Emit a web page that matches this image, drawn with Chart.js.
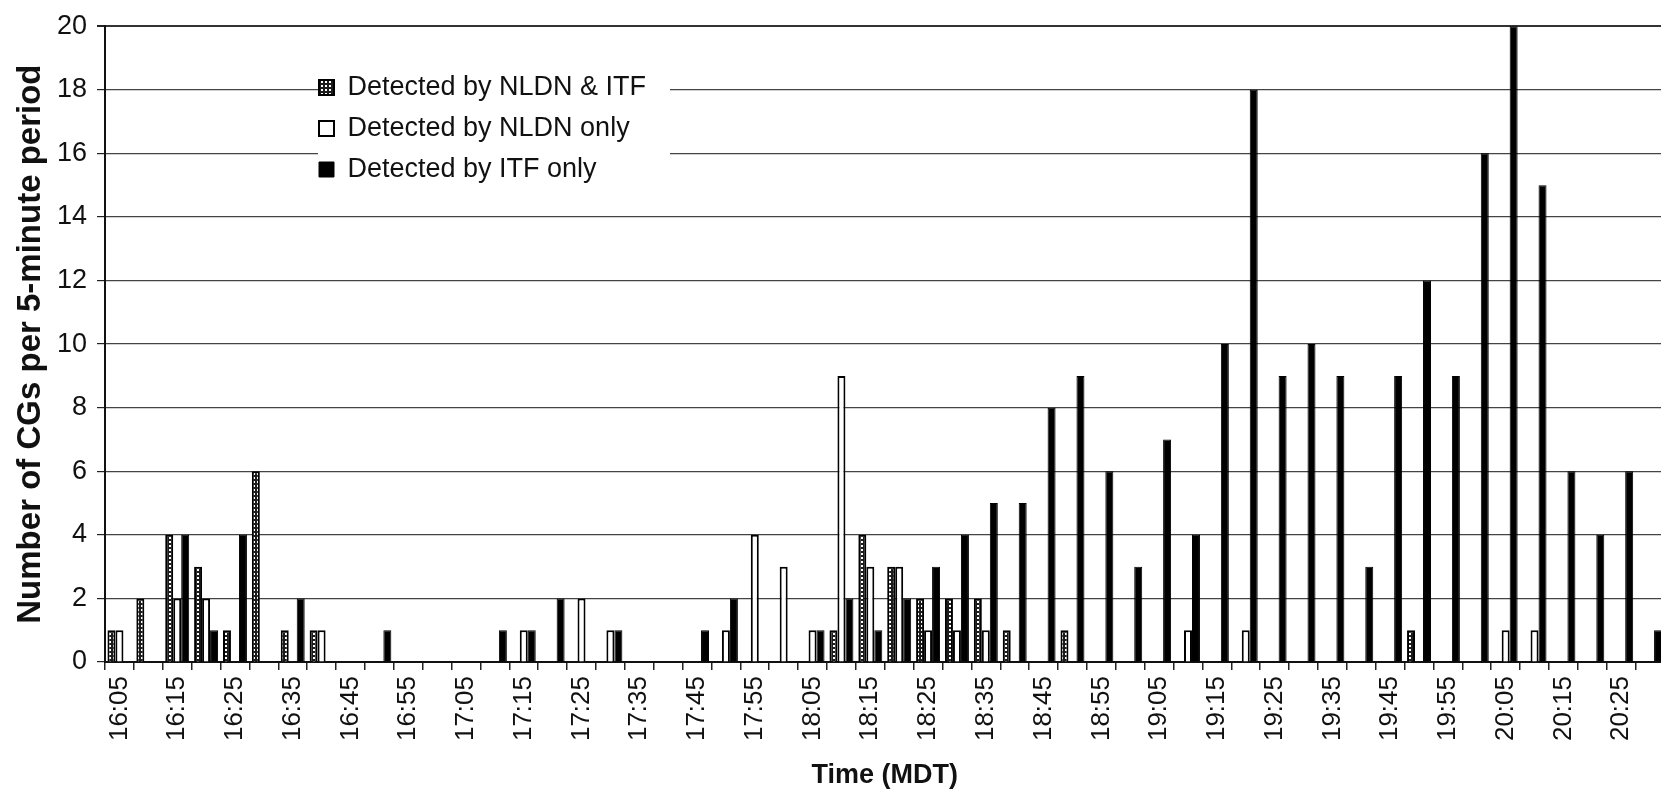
<!DOCTYPE html>
<html>
<head>
<meta charset="utf-8">
<title>CGs per 5-minute period</title>
<script src="https://cdn.jsdelivr.net/npm/chart.js@4.4.1/dist/chart.umd.min.js"></script>
<style>
    html, body { margin: 0; padding: 0; background: #fff; overflow: hidden; }
    canvas { display: block; }
</style>
</head>
<body>
<canvas id="cgChart" width="1666" height="794"></canvas>
<script>
// ========================================
// Data
// ========================================
const timeLabels = [
    '16:05', '16:10', '16:15', '16:20', '16:25', '16:30', '16:35', '16:40', '16:45', '16:50',
    '16:55', '17:00', '17:05', '17:10', '17:15', '17:20', '17:25', '17:30', '17:35', '17:40',
    '17:45', '17:50', '17:55', '18:00', '18:05', '18:10', '18:15', '18:20', '18:25', '18:30',
    '18:35', '18:40', '18:45', '18:50', '18:55', '19:00', '19:05', '19:10', '19:15', '19:20',
    '19:25', '19:30', '19:35', '19:40', '19:45', '19:50', '19:55', '20:00', '20:05', '20:10',
    '20:15', '20:20', '20:25', '20:30'
];

// Detected by NLDN & ITF
const bothCounts = [
    1, 2, 4, 3, 1, 6, 1, 1, 0, 0,
    0, 0, 0, 0, 0, 0, 0, 0, 0, 0,
    0, 0, 0, 0, 0, 1, 4, 3, 2, 2,
    2, 1, 0, 1, 0, 0, 0, 0, 0, 0,
    0, 0, 0, 0, 0, 1, 0, 0, 0, 0,
    0, 0, 0, 0
];

// Detected by NLDN only
const nldnOnlyCounts = [
    1, 0, 2, 2, 0, 0, 0, 1, 0, 0,
    0, 0, 0, 0, 1, 0, 2, 1, 0, 0,
    0, 1, 4, 3, 1, 9, 3, 3, 1, 1,
    1, 0, 0, 0, 0, 0, 0, 1, 0, 1,
    0, 0, 0, 0, 0, 0, 0, 0, 1, 1,
    0, 0, 0, 0
];

// Detected by ITF only
const itfOnlyCounts = [
    0, 0, 4, 1, 4, 0, 2, 0, 0, 1,
    0, 0, 0, 1, 1, 2, 0, 1, 0, 0,
    1, 2, 0, 0, 1, 2, 1, 2, 3, 4,
    5, 5, 8, 9, 6, 3, 7, 4, 10, 18,
    9, 10, 9, 3, 9, 12, 9, 16, 20, 15,
    6, 4, 6, 1
];

const yTicks = [0, 2, 4, 6, 8, 10, 12, 14, 16, 18, 20];

// ========================================
// Helpers
// ========================================
const FONT = "'Liberation Sans', Arial, Helvetica, sans-serif";

// dotted fill for the "NLDN & ITF" bars
function makeDotPattern() {
    const tile = document.createElement('canvas');
    tile.width = 4;
    tile.height = 4;
    const t = tile.getContext('2d');
    t.fillStyle = '#1c1c1c';
    t.fillRect(0, 0, 4, 4);
    t.fillStyle = '#ffffff';
    t.fillRect(1, 1, 2, 2);
    return t.createPattern(tile, 'repeat');
}

// legend sits inside the plot, on a white patch that hides the gridlines
const legendInside = {
    id: 'legendInside',
    afterLayout(chart) {
        const lg = chart.legend;
        if (!lg) return;
        const w = lg.width, h = lg.height;
        lg.left = 305;
        lg.top = 60;
        lg.right = lg.left + w;
        lg.bottom = lg.top + h;
    },
    beforeDatasetsDraw(chart) {
        const ctx = chart.ctx;
        ctx.save();
        ctx.fillStyle = '#ffffff';
        ctx.fillRect(318, 65, 352, 125);
        ctx.restore();
        chart.legend.draw();
    }
};

const dotPattern = makeDotPattern();

new Chart(document.getElementById('cgChart'), {
    type: 'bar',
    data: {
        labels: timeLabels,
        datasets: [
            {
                label: 'Detected by NLDN & ITF',
                data: bothCounts,
                backgroundColor: dotPattern,
                borderColor: '#000',
                borderWidth: 2
            },
            {
                label: 'Detected by NLDN only',
                data: nldnOnlyCounts,
                backgroundColor: '#ffffff',
                borderColor: '#000',
                borderWidth: 2
            },
            {
                label: 'Detected by ITF only',
                data: itfOnlyCounts,
                backgroundColor: '#000000',
                borderColor: '#000',
                borderWidth: 1
            }
        ]
    },
    options: {
        responsive: false,
        animation: false,
        categoryPercentage: 0.83,
        barPercentage: 1.0,
        layout: {
            padding: { left: 0, right: 1.5, top: 20, bottom: 0 }
        },
        scales: {
            x: {
                afterFit: (scale) => {
                    scale.height = 132;
                    // rotated labels should not shrink the plot on the sides
                    scale.paddingLeft = 0;
                    scale.paddingRight = 0;
                },
                grid: {
                    offset: true,
                    drawOnChartArea: false,
                    drawTicks: true,
                    tickLength: 8,
                    color: '#222',
                    lineWidth: 1.5
                },
                border: { display: true, color: '#111', width: 2 },
                ticks: {
                    autoSkip: false,
                    minRotation: 90,
                    maxRotation: 90,
                    padding: 6,
                    color: '#111',
                    font: { family: FONT, size: 26 },
                    callback: function (value, index) {
                        return index % 2 === 0 ? timeLabels[index] : '';
                    }
                },
                title: {
                    display: true,
                    text: 'Time (MDT)',
                    color: '#111',
                    font: { family: FONT, size: 27, weight: 'bold' },
                    padding: { top: 0, bottom: 2 }
                }
            },
            y: {
                min: 0,
                max: 20,
                afterFit: (scale) => { scale.width = 105; },
                afterBuildTicks: (scale) => {
                    scale.ticks = yTicks.map(v => ({ value: v }));
                },
                grid: {
                    color: (c) => c.tick && c.tick.value === 20 ? '#333' : '#444',
                    lineWidth: (c) => c.tick && c.tick.value === 20 ? 2 : 1.2,
                    tickColor: '#222',
                    tickLength: 8
                },
                border: { display: true, color: '#111', width: 2 },
                ticks: {
                    padding: 10,
                    color: '#111',
                    font: { family: FONT, size: 27 }
                },
                title: {
                    display: true,
                    text: 'Number of CGs per 5-minute period',
                    color: '#111',
                    font: { family: FONT, size: 33, weight: 'bold' },
                    padding: { top: 11, bottom: 0 }
                }
            }
        },
        plugins: {
            legend: {
                position: 'chartArea',
                align: 'start',
                labels: {
                    boxWidth: 15,
                    boxHeight: 15,
                    padding: 14,
                    color: '#111',
                    font: { family: FONT, size: 27 }
                }
            },
            tooltip: { enabled: false }
        }
    },
    plugins: [legendInside]
});
</script>
</body>
</html>
